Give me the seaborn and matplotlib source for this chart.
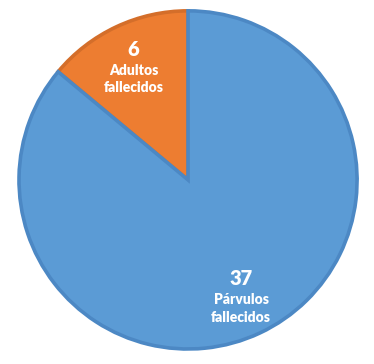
import numpy as np
import matplotlib
matplotlib.use("Agg")
import matplotlib.pyplot as plt
import seaborn as sns

categories = ["Adultos\nfallecidos", "Párvulos\nfallecidos"]
values = [6, 37]
colors = ["#ED7D31", "#5B9BD5"]
edge_colors = ["#D46E2A", "#4C88C4"]
label_dist = [0.76, 0.74]

sns.set_theme(style="white")
plt.rcParams["font.family"] = ["Lato", "DejaVu Sans"]

fig = plt.figure(figsize=(3.74, 3.64), dpi=100)
ax = fig.add_axes([0.0508, 0.0412, 0.904, 0.929])
wedges, _ = ax.pie(values, colors=colors, startangle=90, counterclock=True,
                   wedgeprops=dict(linewidth=2.6))
for w, ec in zip(wedges, edge_colors):
    w.set_edgecolor(ec)

for w, cat, val, d in zip(wedges, categories, values, label_dist):
    ang = np.deg2rad((w.theta1 + w.theta2) / 2)
    x, y = d * np.cos(ang), d * np.sin(ang)
    ax.text(x, y + 0.03, str(val), ha="center", va="bottom", color="white",
            fontsize=14.5, fontweight="heavy")
    ax.text(x, y + 0.0, cat, ha="center", va="top", color="white",
            fontsize=10, fontweight="heavy", linespacing=1.4)

ax.set_xlim(-1.0, 1.0)
ax.set_ylim(-1.0, 1.0)
ax.set_aspect("auto")
ax.axis("off")
fig.savefig("out.png", dpi=100)
